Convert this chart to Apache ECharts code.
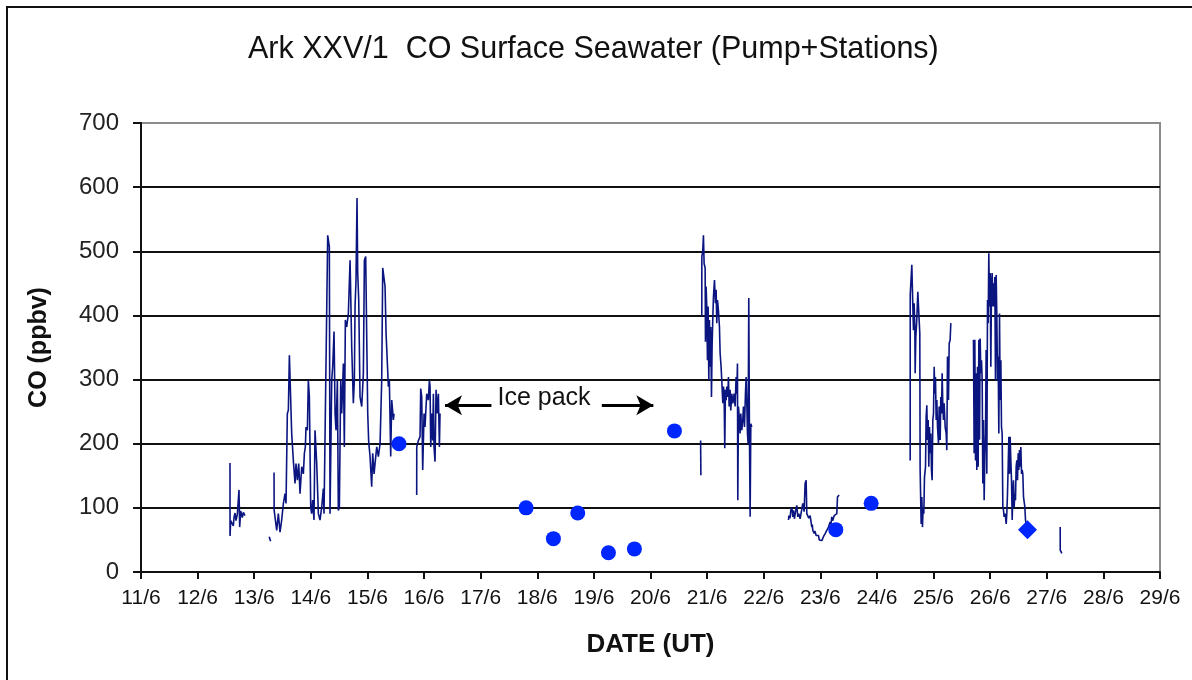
<!DOCTYPE html>
<html>
<head>
<meta charset="utf-8">
<title>Ark XXV/1 CO Surface Seawater</title>
<script src="https://cdn.jsdelivr.net/npm/echarts@6/dist/echarts.min.js"></script>
<style>
  html, body { margin: 0; padding: 0; background: #fff; }
  #main { width: 1192px; height: 680px; }
</style>
</head>
<body>
<div id="main"></div>
<script>
// x tick labels (day/month), one per day from 11/6 to 29/6
const xTickLabels = ['11/6','12/6','13/6','14/6','15/6','16/6','17/6','18/6','19/6','20/6',
  '21/6','22/6','23/6','24/6','25/6','26/6','27/6','28/6','29/6'];

// pump record, [day of June (UT), CO ppbv], split where the record has gaps
const pumpSeg1 = [[12.572,170],[12.573,56],[12.584,80],[12.631,72],[12.643,85],[12.661,92],[12.678,80],[12.702,90],
  [12.731,128],[12.743,70],[12.761,95],[12.790,85],[12.808,93],[12.837,88]];
const pumpSeg2 = [[13.265,55],[13.29,48]];
const pumpSeg3 = [[13.350,155],[13.352,96],[13.397,65],[13.426,91],[13.456,62],[13.485,81],[13.515,107],[13.544,122],
  [13.562,107],[13.585,247],[13.603,252],[13.621,338],[13.644,336],[13.662,216],[13.691,174],[13.721,138],[13.738,169],
  [13.762,143],[13.786,169],[13.809,122],[13.839,164],[13.868,153],[13.886,185],[13.903,195],[13.915,226],[13.939,221],
  [13.956,299],[13.974,273],[13.998,101],[14.015,91],[14.033,112],[14.056,81],[14.074,221],[14.104,169],[14.133,91],
  [14.162,81],[14.192,101],[14.221,130],[14.233,91],[14.268,91],[14.298,525],[14.327,507],[14.339,91],[14.369,299],
  [14.386,320],[14.410,375],[14.428,247],[14.445,221],[14.469,299],[14.486,96],[14.504,101],[14.528,299],[14.545,247],
  [14.575,325],[14.592,195],[14.610,393],[14.634,382],[14.663,403],[14.693,486],[14.722,351],[14.751,263],[14.769,299],
  [14.781,414],[14.798,455],[14.816,583],[14.828,466],[14.846,424],[14.869,273],[14.899,258],[14.928,310],[14.946,486],
  [14.969,492],[14.987,494],[15.005,247],[15.022,203],[15.046,180],[15.075,133],[15.093,185],[15.117,153],[15.134,169],
  [15.164,195],[15.193,180],[15.223,200],[15.252,299],[15.270,474],[15.293,476],[15.311,445],[15.329,372],[15.352,325],
  [15.370,289],[15.387,299],[15.411,180],[15.429,268],[15.458,237],[15.470,247]];
const pumpSeg4 = [[15.870,120],[15.871,195],[15.900,205],[15.929,211],[15.941,286],[15.959,273],[15.976,159],[16.000,247],
  [16.017,226],[16.047,278],[16.076,268],[16.094,299],[16.106,289],[16.118,195],[16.135,247],[16.153,205],[16.165,278],
  [16.176,195],[16.194,172],[16.212,284],[16.235,247],[16.253,278],[16.271,195],[16.282,247]];
const pumpSeg5 = [[20.885,205],[20.89,151]];
const pumpSeg6 = [[20.906,398],[20.907,492],[20.923,500],[20.935,525],[20.947,481],[20.965,474],[20.971,359],[20.982,445],
  [20.994,414],[21.006,330],[21.018,414],[21.030,299],[21.041,393],[21.053,320],[21.065,382],[21.077,273],[21.088,351],
  [21.100,393],[21.112,429],[21.130,455],[21.147,419],[21.159,440],[21.171,388],[21.183,424],[21.200,408],[21.218,382],
  [21.230,341],[21.247,320],[21.259,299],[21.277,263],[21.289,289],[21.300,278],[21.312,193],[21.324,284],[21.336,268],
  [21.347,289],[21.365,273],[21.377,304],[21.389,258],[21.406,284],[21.418,252],[21.436,278],[21.454,263],[21.477,278],
  [21.495,258],[21.512,304],[21.524,278],[21.536,325],[21.542,112],[21.554,258],[21.571,237],[21.583,216],[21.595,247],
  [21.613,221],[21.630,237],[21.642,258],[21.660,226],[21.677,278],[21.689,304],[21.701,263],[21.713,216],[21.724,200],
  [21.736,427],[21.748,211],[21.760,86],[21.772,231],[21.789,226]];
const pumpSeg7 = [[22.437,81],[22.445,88],[22.455,91],[22.466,84],[22.478,96],[22.496,101],[22.514,86],[22.525,96],
  [22.543,83],[22.561,94],[22.584,104],[22.602,86],[22.620,91],[22.643,83],[22.667,81],[22.690,107],[22.714,94],
  [22.731,138],[22.749,143],[22.761,91],[22.784,91],[22.796,84],[22.808,81],[22.820,88],[22.832,86],[22.849,70],
  [22.858,74],[22.867,65],[22.879,68],[22.891,60],[22.903,64],[22.914,62],[22.926,57],[22.938,55],[22.952,59],
  [22.967,57],[22.981,50],[22.996,52],[23.011,47],[23.026,49],[23.040,46],[23.055,55],[23.070,52],[23.085,60],
  [23.100,57],[23.114,65],[23.130,62],[23.144,70],[23.158,67],[23.173,78],[23.188,74],[23.202,86],[23.217,80],
  [23.232,83],[23.246,88],[23.261,91],[23.276,86],[23.291,91],[23.303,117],[23.332,120]];
const pumpSeg8 = [[24.587,174],[24.588,432],[24.598,429],[24.616,479],[24.634,414],[24.645,377],[24.657,419],[24.669,382],
  [24.675,310],[24.687,367],[24.704,393],[24.722,437],[24.740,403],[24.757,372],[24.763,159],[24.781,75],[24.793,117],
  [24.804,70],[24.816,101],[24.828,91],[24.840,148],[24.858,164],[24.869,242],[24.881,260],[24.893,206],[24.905,237],
  [24.916,164],[24.928,226],[24.940,185],[24.952,216],[24.963,159],[24.975,143],[24.987,237],[24.999,247],[25.011,320],
  [25.022,278],[25.034,304],[25.046,237],[25.058,268],[25.070,226],[25.087,200],[25.099,258],[25.117,206],[25.128,273],
  [25.140,247],[25.152,310],[25.164,258],[25.175,237],[25.187,263],[25.205,226],[25.223,216],[25.234,190],[25.246,336],
  [25.264,268],[25.276,356],[25.293,362],[25.305,388]];
const pumpSeg9 = [[25.705,362],[25.717,185],[25.729,362],[25.741,174],[25.753,310],[25.764,159],[25.776,320],[25.788,164],
  [25.800,362],[25.812,206],[25.823,364],[25.835,310],[25.847,330],[25.859,299],[25.870,138],[25.882,237],[25.894,112],
  [25.906,180],[25.918,216],[25.929,346],[25.941,153],[25.953,424],[25.965,388],[25.976,497],[25.988,414],[26.000,466],
  [26.012,320],[26.024,450],[26.035,466],[26.047,414],[26.059,450],[26.071,414],[26.082,460],[26.094,299],[26.106,463],
  [26.118,398],[26.130,299],[26.141,336],[26.153,216],[26.165,403],[26.177,268],[26.189,330],[26.200,226],[26.212,216],
  [26.224,101],[26.236,96],[26.247,86],[26.265,91],[26.283,75],[26.294,91],[26.306,122],[26.318,164],[26.330,211],
  [26.342,153],[26.353,211],[26.365,174],[26.377,143],[26.389,81],[26.400,122],[26.412,143],[26.424,101],[26.436,122],
  [26.447,112],[26.459,164],[26.471,174],[26.483,143],[26.495,185],[26.506,159],[26.518,190],[26.530,164],[26.542,195],
  [26.554,153],[26.565,159],[26.577,153],[26.589,117],[26.613,101],[26.624,81],[26.648,69]];
const pumpSeg10 = [[27.237,70],[27.238,34],[27.266,29]];
const pumpSegments = [pumpSeg1, pumpSeg2, pumpSeg3, pumpSeg4, pumpSeg5, pumpSeg6, pumpSeg7, pumpSeg8, pumpSeg9, pumpSeg10];

// station samples (dots)
const stationDays = [15.558, 17.802, 18.285, 18.715, 19.257, 19.716, 20.423, 23.273, 23.898];
const stationCO = [200, 100, 52, 92, 30, 36, 220, 66, 107];
// last station (diamond)
const diamondDays = [26.659];
const diamondCO = [66];

// ice pack annotation: arrow spans [from, to] in days, at CO level
const iceLeftArrow = [17.19, 16.37];
const iceRightArrow = [19.14, 20.05];
const iceArrowLevel = 260;
const iceLabelPos = [18.12, 271];

const FONT = '"Liberation Sans", Arial, sans-serif';
const chart = echarts.init(document.getElementById('main'));

const lineSeries = pumpSegments.map(seg => ({
  type: 'line',
  data: seg,
  symbol: 'none',
  silent: true,
  lineStyle: { color: '#0b1580', width: 1.6 },
  z: 3
}));

const option = {
  animation: false,
  backgroundColor: '#fff',
  textStyle: { fontFamily: FONT },
  title: {
    text: 'Ark XXV/1  CO Surface Seawater (Pump+Stations)',
    left: 243,
    top: 29,
    textStyle: { fontFamily: FONT, fontSize: 30.5, fontWeight: 'normal', color: '#111' }
  },
  graphic: [{
    type: 'rect',
    shape: { x: 7, y: 7, width: 1200, height: 700 },
    style: { fill: 'none', stroke: '#111', lineWidth: 2 },
    silent: true
  }],
  grid: {
    left: 141, right: 32, top: 123, bottom: 108,
    show: true, borderColor: '#8c8c8c', borderWidth: 2, backgroundColor: 'transparent'
  },
  xAxis: {
    type: 'value',
    min: 11, max: 29, interval: 1,
    name: 'DATE (UT)',
    nameLocation: 'middle',
    nameGap: 60,
    nameTextStyle: { fontFamily: FONT, fontSize: 26, fontWeight: 'bold', color: '#111' },
    axisLine: { lineStyle: { color: '#111', width: 2 } },
    axisTick: { show: true, length: 7, lineStyle: { color: '#111', width: 2 } },
    axisLabel: {
      fontFamily: FONT, fontSize: 21, color: '#111', margin: 16,
      formatter: (v, i) => xTickLabels[i]
    },
    splitLine: { show: false }
  },
  yAxis: {
    type: 'value',
    min: 0, max: 700, interval: 100,
    name: 'CO (ppbv)',
    nameLocation: 'middle',
    nameGap: 89,
    nameTextStyle: { fontFamily: FONT, fontSize: 25, fontWeight: 'bold', color: '#111' },
    axisLine: { show: true, lineStyle: { color: '#111', width: 2 } },
    axisTick: { show: true, length: 8, lineStyle: { color: '#111', width: 2 } },
    axisLabel: { fontFamily: FONT, fontSize: 24, color: '#222', margin: 22 },
    splitLine: {
      show: true,
      lineStyle: { color: ['#111', '#111', '#111', '#111', '#111', '#111', '#111', '#8c8c8c'], width: 2 }
    }
  },
  series: lineSeries.concat([
    {
      type: 'scatter',
      name: 'Stations',
      data: stationDays.map((d, i) => [d, stationCO[i]]),
      symbol: 'circle',
      symbolSize: 15,
      itemStyle: { color: '#0026ff', opacity: 1 },
      z: 5,
      markLine: {
        silent: true,
        symbol: ['none', 'arrow'],
        symbolSize: [15, 17],
        label: { show: false },
        lineStyle: { color: '#000', width: 3, type: 'solid' },
        data: [
          [{ coord: [iceLeftArrow[0], iceArrowLevel] }, { coord: [iceLeftArrow[1], iceArrowLevel] }],
          [{ coord: [iceRightArrow[0], iceArrowLevel] }, { coord: [iceRightArrow[1], iceArrowLevel] }]
        ]
      },
      markPoint: {
        silent: true,
        symbol: 'rect',
        symbolSize: 1,
        itemStyle: { color: 'transparent' },
        label: {
          show: true, position: 'inside',
          fontFamily: FONT, fontSize: 25, color: '#111',
          formatter: 'Ice pack'
        },
        data: [{ coord: iceLabelPos }]
      }
    },
    {
      type: 'scatter',
      name: 'Last station',
      data: diamondDays.map((d, i) => [d, diamondCO[i]]),
      symbol: 'diamond',
      symbolSize: 19,
      itemStyle: { color: '#0026ff', opacity: 1 },
      z: 5
    }
  ])
};

chart.setOption(option);
</script>
</body>
</html>
